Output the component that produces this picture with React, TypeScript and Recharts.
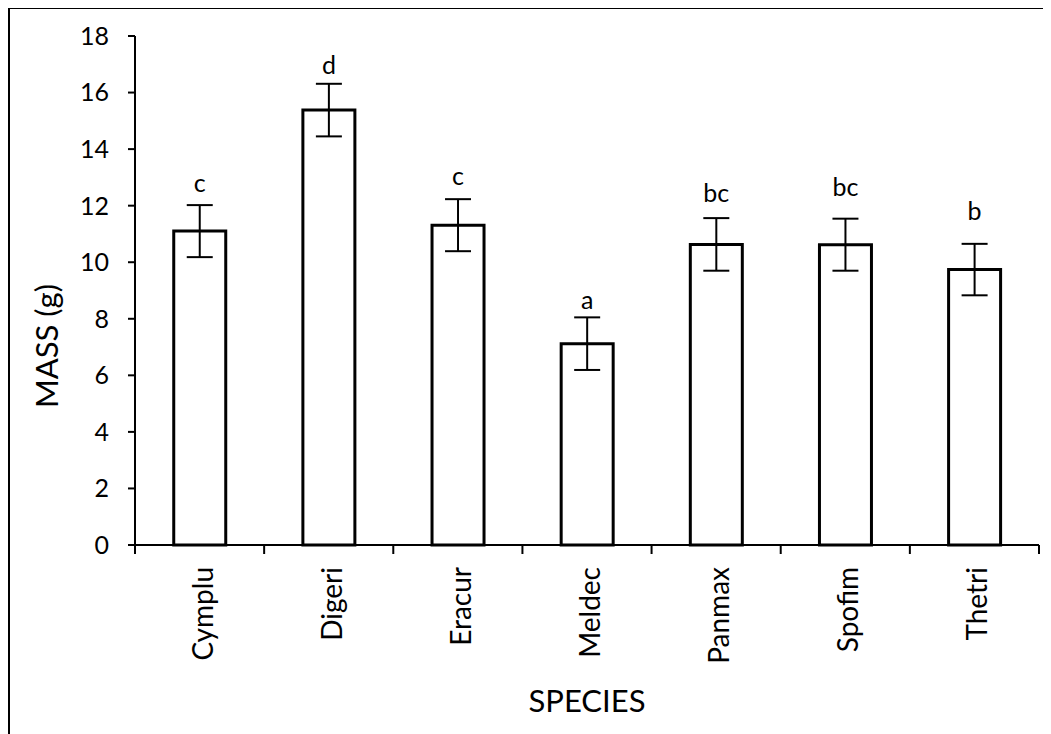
import { BarChart, Bar, XAxis, YAxis, ErrorBar, LabelList } from 'recharts';

const FONT = 'Lato, "Open Sans", sans-serif';

const species = ['Cymplu', 'Digeri', 'Eracur', 'Meldec', 'Panmax', 'Spofim', 'Thetri'];
const mass = [11.1, 15.38, 11.31, 7.12, 10.63, 10.62, 9.74];
const massError = [0.92, 0.93, 0.92, 0.93, 0.93, 0.92, 0.91];
const groups = ['c', 'd', 'c', 'a', 'bc', 'bc', 'b'];
const massTicks = [0, 2, 4, 6, 8, 10, 12, 14, 16, 18];

// how far each letter sits above its error cap (px)
const letterGap = [13, 10, 14, 8, 16, 23, 24];

const data = species.map((name, i) => ({
  name,
  mass: mass[i],
  err: massError[i],
  group: groups[i],
}));

// species name plus the tick mark between categories
const SpeciesTick = ({ x, y, payload, width, visibleTicksCount }: any) => {
  const half =
    payload && typeof payload.offset === 'number' && payload.offset > 0
      ? payload.offset
      : width / visibleTicksCount / 2;
  const last = payload.index === visibleTicksCount - 1;
  return (
    <g>
      <line x1={x - half} x2={x - half} y1={y} y2={y + 9} stroke="#000" strokeWidth={2} />
      {last && (
        <line x1={x + half} x2={x + half} y1={y} y2={y + 9} stroke="#000" strokeWidth={2} />
      )}
      <text
        transform={`translate(${x + 13},${y + 22}) rotate(-90)`}
        textAnchor="end"
        fontSize={28}
        fontFamily={FONT}
        fill="#000"
      >
        {payload.value}
      </text>
    </g>
  );
};

const GroupLetter = (props: any) => {
  const vb = props.viewBox || {};
  const x = props.x ?? vb.x;
  const y = props.y ?? vb.y;
  const width = props.width ?? vb.width;
  const height = props.height ?? vb.height;
  const i = props.index;
  const perUnit = height / mass[i];
  const capY = y - massError[i] * perUnit;
  return (
    <text
      x={x + width / 2}
      y={capY - letterGap[i]}
      textAnchor="middle"
      fontSize={25}
      fontFamily={FONT}
      fill="#000"
    >
      {groups[i]}
    </text>
  );
};

const MassLabel = () => (
  <text
    x={48}
    y={337}
    transform="rotate(-90 48 337)"
    textAnchor="middle"
    fontSize={31}
    fontFamily={FONT}
    fill="#000"
  >
    MASS (g)
  </text>
);

export default function App() {
  return (
    <div
      style={{
        position: 'relative',
        width: 1043,
        height: 727,
        marginTop: -1,
        borderTop: '2px solid #000',
        borderLeft: '2px solid #000',
        boxSizing: 'border-box',
        background: '#fff',
      }}
    >
      <BarChart
        width={1041}
        height={725}
        data={data}
        margin={{ top: 27, right: 12, bottom: 0, left: 0 }}
        barCategoryGap="30%"
      >
        <XAxis
          dataKey="name"
          height={189}
          axisLine={{ stroke: '#000', strokeWidth: 2 }}
          tickLine={false}
          tickSize={0}
          tickMargin={0}
          interval={0}
          tick={<SpeciesTick />}
          label={{
            value: 'SPECIES',
            position: 'insideBottom',
            offset: 22,
            fontSize: 31,
            fontFamily: FONT,
            fill: '#000',
          }}
        />
        <YAxis
          width={125}
          domain={[0, 18]}
          ticks={massTicks}
          interval={0}
          tickSize={7}
          tickMargin={19}
          axisLine={{ stroke: '#000', strokeWidth: 2 }}
          tickLine={{ stroke: '#000', strokeWidth: 2 }}
          tick={{ fontSize: 25, fontFamily: FONT, fill: '#000' }}
          label={{ content: <MassLabel /> }}
        />
        <Bar
          dataKey="mass"
          fill="#fff"
          stroke="#000"
          strokeWidth={3}
          isAnimationActive={false}
        >
          <ErrorBar
            dataKey="err"
            width={13}
            stroke="#000"
            strokeWidth={2}
            direction="y"
            isAnimationActive={false}
          />
          <LabelList dataKey="group" content={<GroupLetter />} />
        </Bar>
      </BarChart>
    </div>
  );
}
